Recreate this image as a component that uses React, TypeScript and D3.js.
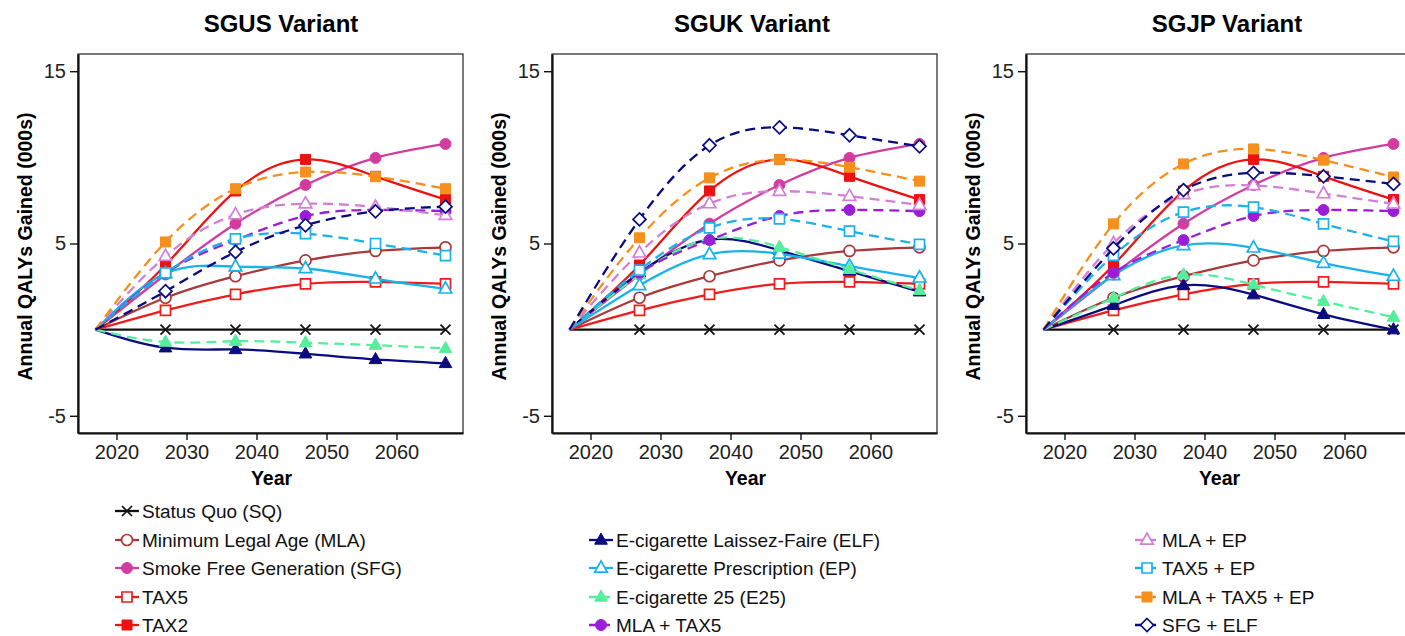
import React, { useEffect, useRef } from 'react';
import * as d3 from 'd3';

// years of the simulation, 2017 is the baseline (all zero)
const years = [2017, 2027, 2037, 2047, 2057, 2067];
const xTicks = [2020, 2030, 2040, 2050, 2060];
const yTicks = [-5, 5, 15];
const variants = ['SGUS Variant', 'SGUK Variant', 'SGJP Variant'];

// policies that do not depend on the e-cigarette variant
const sq = [0, 0, 0, 0, 0, 0];
const mla = [0, 1.85, 3.1, 4.02, 4.57, 4.78];
const sfg = [0, 3.2, 6.15, 8.4, 9.97, 10.78];
const tax5 = [0, 1.12, 2.05, 2.66, 2.77, 2.66];
const tax2 = [0, 3.75, 8.05, 9.88, 8.9, 7.55];
const mlaTax5 = [0, 3.3, 5.2, 6.6, 6.95, 6.88];

// SGUS
const elfUS = [0, -1.05, -1.15, -1.4, -1.73, -1.96];
const epUS = [0, 3.26, 3.66, 3.55, 2.95, 2.37];
const e25US = [0, -0.72, -0.67, -0.76, -0.9, -1.09];
const mlaEpUS = [0, 4.26, 6.68, 7.31, 7.12, 6.64];
const tax5EpUS = [0, 3.3, 5.27, 5.57, 5.0, 4.3];
const mlaTax5EpUS = [0, 5.09, 8.18, 9.15, 8.88, 8.18];
const sfgElfUS = [0, 2.23, 4.51, 6.06, 6.87, 7.14];

// SGUK
const elfUK = [0, 3.3, 5.23, 4.6, 3.4, 2.2];
const epUK = [0, 2.57, 4.37, 4.4, 3.69, 3.01];
const e25UK = [0, 3.2, 5.27, 4.79, 3.5, 2.28];
const mlaEpUK = [0, 4.46, 7.32, 8.04, 7.75, 7.23];
const tax5EpUK = [0, 3.46, 5.91, 6.43, 5.72, 4.95];
const mlaTax5EpUK = [0, 5.33, 8.81, 9.87, 9.43, 8.62];
const sfgElfUK = [0, 6.4, 10.7, 11.74, 11.28, 10.64];

// SGJP
const elfJP = [0, 1.41, 2.57, 2.03, 0.89, 0];
const epJP = [0, 3.15, 4.89, 4.75, 3.86, 3.11];
const e25JP = [0, 1.84, 3.19, 2.61, 1.64, 0.73];
const mlaEpJP = [0, 5.0, 7.85, 8.37, 7.9, 7.3];
const tax5EpJP = [0, 4.31, 6.82, 7.11, 6.14, 5.12];
const mlaTax5EpJP = [0, 6.14, 9.62, 10.49, 9.84, 8.86];
const sfgElfJP = [0, 4.72, 8.1, 9.1, 8.9, 8.46];

const seriesNames = [
    'Status Quo (SQ)',
    'Minimum Legal Age (MLA)',
    'Smoke Free Generation (SFG)',
    'TAX5',
    'TAX2',
    'E-cigarette Laissez-Faire (ELF)',
    'E-cigarette Prescription (EP)',
    'E-cigarette 25 (E25)',
    'MLA + TAX5',
    'MLA + EP',
    'TAX5 + EP',
    'MLA + TAX5 + EP',
    'SFG + ELF',
];

const panelValues = [
    [sq, mla, sfg, tax5, tax2, elfUS, epUS, e25US, mlaTax5, mlaEpUS, tax5EpUS, mlaTax5EpUS, sfgElfUS],
    [sq, mla, sfg, tax5, tax2, elfUK, epUK, e25UK, mlaTax5, mlaEpUK, tax5EpUK, mlaTax5EpUK, sfgElfUK],
    [sq, mla, sfg, tax5, tax2, elfJP, epJP, e25JP, mlaTax5, mlaEpJP, tax5EpJP, mlaTax5EpJP, sfgElfJP],
];

const styles = [
    { color: '#111111', shape: 'x', filled: false, dashed: false },
    { color: '#a8383a', shape: 'circle', filled: false, dashed: false },
    { color: '#d23c9f', shape: 'circle', filled: true, dashed: false },
    { color: '#ee1c1c', shape: 'square', filled: false, dashed: false },
    { color: '#ee1111', shape: 'square', filled: true, dashed: false },
    { color: '#0b0b80', shape: 'triangle', filled: true, dashed: false },
    { color: '#1ab2ea', shape: 'triangle', filled: false, dashed: false },
    { color: '#55ee9c', shape: 'triangle', filled: true, dashed: true },
    { color: '#9a1ed8', shape: 'circle', filled: true, dashed: true },
    { color: '#d47fd6', shape: 'triangle', filled: false, dashed: true },
    { color: '#1ab2ea', shape: 'square', filled: false, dashed: true },
    { color: '#f5901e', shape: 'square', filled: true, dashed: true },
    { color: '#0b0b80', shape: 'diamond', filled: false, dashed: true },
];

// legend columns: indexes into seriesNames, and the row each column starts on
const legendCols = [
    { x: 115, start: 0, items: [0, 1, 2, 3, 4] },
    { x: 589, start: 1, items: [5, 6, 7, 8] },
    { x: 1135, start: 1, items: [9, 10, 11, 12] },
];

const font = '"Liberation Sans", Arial, Helvetica, sans-serif';

const shapePath = (shape) => {
    switch (shape) {
        case 'circle': return 'M-5.5,0A5.5,5.5 0 1,0 5.5,0A5.5,5.5 0 1,0 -5.5,0Z';
        case 'square': return 'M-5,-5H5V5H-5Z';
        case 'triangle': return 'M0,-7L6.3,4.2L-6.3,4.2Z';
        case 'diamond': return 'M0,-6.5L6.5,0L0,6.5L-6.5,0Z';
        default: return 'M-5,-5L5,5M-5,5L5,-5';
    }
};

const drawMarker = (g, s, x, y) => {
    g.append('path')
        .attr('d', shapePath(s.shape))
        .attr('transform', `translate(${x},${y})`)
        .attr('fill', s.shape === 'x' ? 'none' : (s.filled ? s.color : 'white'))
        .attr('stroke', s.color)
        .attr('stroke-width', s.filled ? 1 : 1.7);
};

export default function App() {
    const ref = useRef(null);

    useEffect(() => {
        const svg = d3.select(ref.current);
        svg.selectAll('*').remove();

        const top = 54;
        const bottom = 433;
        const panelW = 385;
        const lefts = [78, 552, 1026];
        const titleX = [281, 752, 1227];

        const yScale = d3.scaleLinear().domain([-6, 16]).range([bottom, top]);

        lefts.forEach((left, p) => {
            const xScale = d3.scaleLinear().domain([2014.5, 2069.5]).range([left, left + panelW]);

            svg.append('text')
                .attr('x', titleX[p])
                .attr('y', 32)
                .attr('text-anchor', 'middle')
                .attr('font-family', font)
                .attr('font-weight', 'bold')
                .attr('font-size', 24)
                .text(variants[p]);

            // thin frame, then the axes on top
            svg.append('rect')
                .attr('x', left)
                .attr('y', top)
                .attr('width', panelW)
                .attr('height', bottom - top)
                .attr('fill', 'white')
                .attr('stroke', '#222')
                .attr('stroke-width', 1.2);

            const xAxis = svg.append('g')
                .attr('transform', `translate(0,${bottom})`)
                .call(d3.axisBottom(xScale).tickValues(xTicks).tickFormat(d => `${d}`).tickSize(7).tickSizeOuter(0).tickPadding(5));

            const yAxis = svg.append('g')
                .attr('transform', `translate(${left},0)`)
                .call(d3.axisLeft(yScale).tickValues(yTicks).tickFormat(d => `${d}`).tickSize(8).tickSizeOuter(0).tickPadding(4));

            [xAxis, yAxis].forEach(a => {
                a.select('.domain').attr('stroke', '#111').attr('stroke-width', 2.2);
                a.selectAll('.tick line').attr('stroke', '#111').attr('stroke-width', 1.4);
                a.selectAll('.tick text').attr('fill', '#222').attr('font-family', font).attr('font-size', 20);
            });

            svg.append('text')
                .attr('x', left + panelW / 2 + 1)
                .attr('y', 485)
                .attr('text-anchor', 'middle')
                .attr('font-family', font)
                .attr('font-weight', 'bold')
                .attr('font-size', 19.5)
                .text('Year');

            svg.append('text')
                .attr('transform', `translate(${left - 46},${(top + bottom) / 2 + 3}) rotate(-90)`)
                .attr('text-anchor', 'middle')
                .attr('font-family', font)
                .attr('font-weight', 'bold')
                .attr('font-size', 19.5)
                .text('Annual QALYs Gained (000s)');

            const line = d3.line()
                .x((d, i) => xScale(years[i]))
                .y(d => yScale(d))
                .curve(d3.curveNatural);

            panelValues[p].forEach((values, k) => {
                const s = styles[k];
                const g = svg.append('g');
                g.append('path')
                    .attr('d', line(values))
                    .attr('fill', 'none')
                    .attr('stroke', s.color)
                    .attr('stroke-width', 2.3)
                    .attr('stroke-dasharray', s.dashed ? '10,6' : null);
                values.forEach((v, i) => {
                    if (i === 0) return;
                    drawMarker(g, s, xScale(years[i]), yScale(v));
                });
            });
        });

        // legend
        const rowY = [511, 540, 568, 597, 625];
        legendCols.forEach(col => {
            col.items.forEach((k, j) => {
                const s = styles[k];
                const y = rowY[col.start + j];
                const g = svg.append('g');
                g.append('line')
                    .attr('x1', col.x)
                    .attr('x2', col.x + 24)
                    .attr('y1', y)
                    .attr('y2', y)
                    .attr('stroke', s.color)
                    .attr('stroke-width', 2.3)
                    .attr('stroke-dasharray', s.dashed ? '8,5' : null);
                drawMarker(g, s, col.x + 12, y);
                g.append('text')
                    .attr('x', col.x + 27)
                    .attr('y', y + 7)
                    .attr('font-family', font)
                    .attr('font-size', 19)
                    .attr('fill', '#111')
                    .text(seriesNames[k]);
            });
        });
    }, []);

    return (
        <svg ref={ref} width={1405} height={636}
            style={{ position: 'absolute', left: 0, top: 0, background: 'white' }} />
    );
}
